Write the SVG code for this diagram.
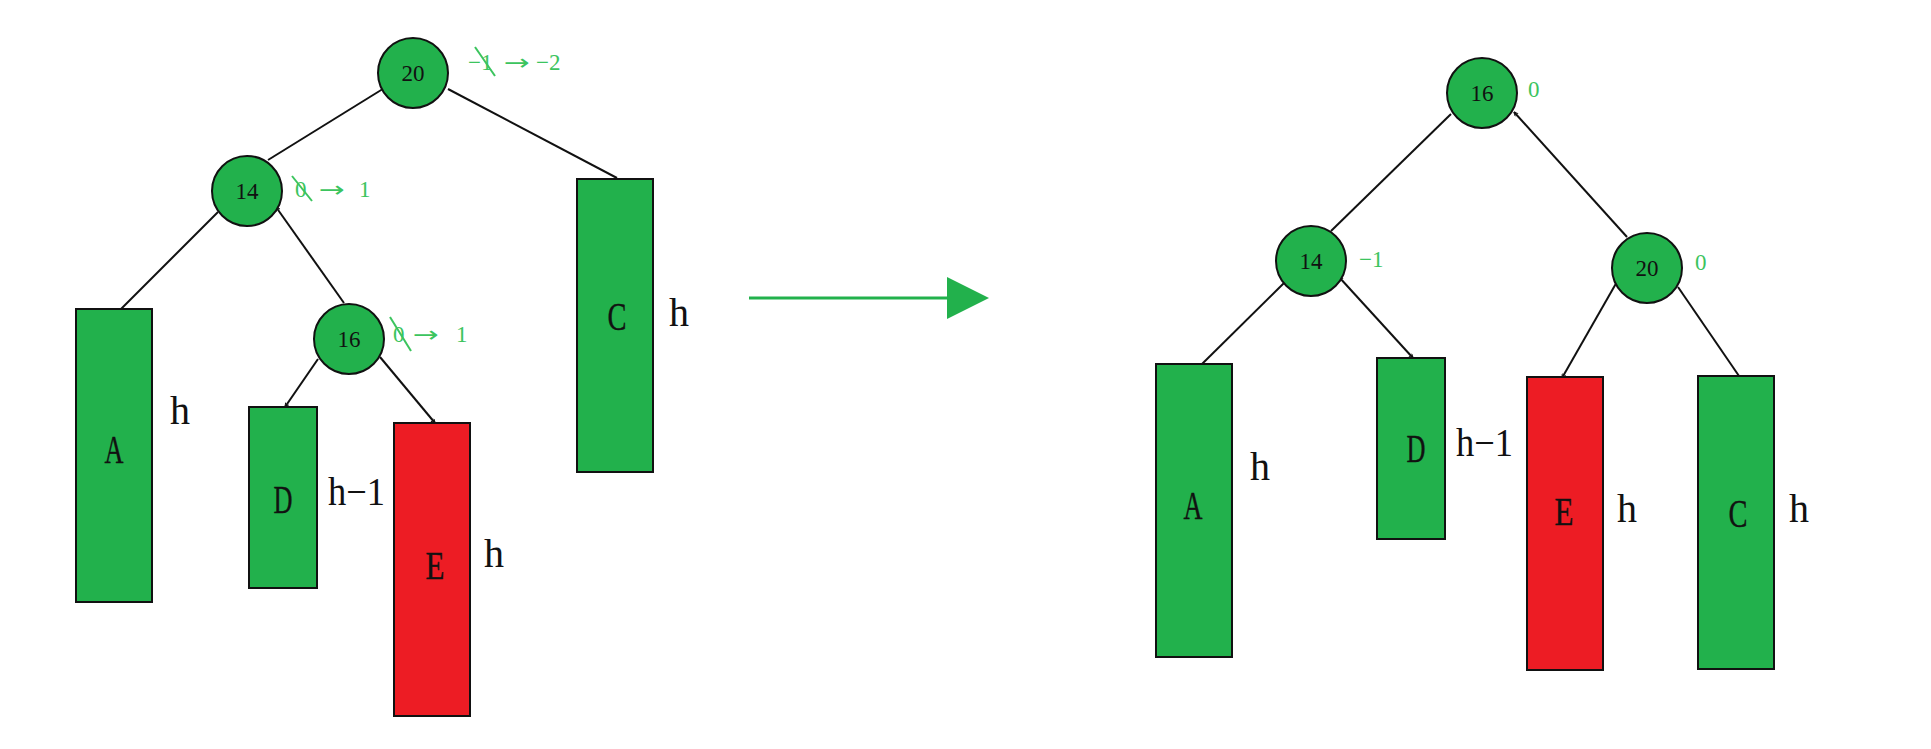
<svg xmlns="http://www.w3.org/2000/svg" width="1931" height="749" viewBox="0 0 1931 749">
<style>
.node circle{fill:#22b14c;stroke:#111;stroke-width:2}
.box{stroke:#111;stroke-width:2}
.g{fill:#22b14c}
.r{fill:#ed1c24}
.num{font-family:"Liberation Serif",serif;font-size:23px;fill:#111;text-anchor:middle}
.let{font-family:"Liberation Serif",serif;font-size:40px;fill:#111;text-anchor:middle;stroke:#111;stroke-width:0.4}
.hl{font-family:"Liberation Serif",serif;font-size:40px;fill:#111}
.bf{font-family:"Liberation Serif",serif;font-size:23px;fill:#3cc45e}
.arr{font-family:"DejaVu Sans",sans-serif;font-size:22px;fill:#3cc45e}
.strike{stroke:#3cc45e;stroke-width:2}
#edges line{stroke:#111;stroke-width:2}
</style>
<defs>
<marker id="tick" viewBox="0 0 10 10" refX="9" refY="5" markerWidth="5" markerHeight="5" orient="auto-start-reverse" markerUnits="userSpaceOnUse">
<path d="M1,1 L9,5 L1,9" fill="none" stroke="#111" stroke-width="2"/>
</marker>
</defs>
<rect width="1931" height="749" fill="#fff"/>

<g id="edges">
<line x1="268" y1="160" x2="386" y2="87" marker-end="url(#tick)"/>
<line x1="448" y1="89" x2="617" y2="178"/>
<line x1="218" y1="212" x2="121" y2="309"/>
<line x1="344" y1="303" x2="276" y2="207" marker-end="url(#tick)"/>
<line x1="318" y1="359" x2="285" y2="407" marker-end="url(#tick)"/>
<line x1="380" y1="357" x2="435" y2="423" marker-end="url(#tick)"/>
<line x1="1331" y1="231" x2="1451" y2="114"/>
<line x1="1627" y1="237" x2="1514" y2="112" marker-end="url(#tick)"/>
<line x1="1284" y1="283" x2="1202" y2="364"/>
<line x1="1339" y1="277" x2="1413" y2="358" marker-start="url(#tick)" marker-end="url(#tick)"/>
<line x1="1618" y1="280" x2="1562" y2="378" marker-start="url(#tick)" marker-end="url(#tick)"/>
<line x1="1678" y1="287" x2="1739" y2="376"/>
</g>

<g id="transform-arrow">
<line x1="749" y1="298" x2="950" y2="298" stroke="#22b14c" stroke-width="3"/>
<polygon points="947,277 989,298 947,319" fill="#22b14c"/>
</g>

<!-- Left tree -->
<g id="L20" class="node"><circle cx="413" cy="73" r="35"/><text class="num" x="413" y="81">20</text></g>
<g id="L20bf"><text class="bf" x="468" y="70">−1</text><text class="arr" x="504" y="70" textLength="26" lengthAdjust="spacingAndGlyphs">→</text><text class="bf" x="536" y="70">−2</text><line class="strike" x1="475" y1="47" x2="495" y2="76"/></g>
<g id="L14" class="node"><circle cx="247" cy="191" r="35"/><text class="num" x="247" y="199">14</text></g>
<g id="L14bf"><text class="bf" x="295" y="197">0</text><text class="arr" x="319" y="197" textLength="26" lengthAdjust="spacingAndGlyphs">→</text><text class="bf" x="359" y="197">1</text><line class="strike" x1="292" y1="176" x2="312" y2="201"/></g>
<g id="L16" class="node"><circle cx="349" cy="339" r="35"/><text class="num" x="349" y="347">16</text></g>
<g id="L16bf"><text class="bf" x="393" y="342">0</text><text class="arr" x="413" y="342" textLength="26" lengthAdjust="spacingAndGlyphs">→</text><text class="bf" x="456" y="342">1</text><line class="strike" x1="390" y1="317" x2="411" y2="351"/></g>

<g id="LA"><rect class="box g" x="76" y="309" width="76" height="293"/><text class="let" x="114" y="463" textLength="19" lengthAdjust="spacingAndGlyphs">A</text><text class="hl" x="170" y="424">h</text></g>
<g id="LD"><rect class="box g" x="249" y="407" width="68" height="181"/><text class="let" x="283" y="513" textLength="19" lengthAdjust="spacingAndGlyphs">D</text><text class="hl" x="328" y="505" textLength="57" lengthAdjust="spacingAndGlyphs">h−1</text></g>
<g id="LE"><rect class="box r" x="394" y="423" width="76" height="293"/><text class="let" x="435" y="579" textLength="19" lengthAdjust="spacingAndGlyphs">E</text><text class="hl" x="484" y="567">h</text></g>
<g id="LC"><rect class="box g" x="577" y="179" width="76" height="293"/><text class="let" x="617" y="330" textLength="19" lengthAdjust="spacingAndGlyphs">C</text><text class="hl" x="669" y="326">h</text></g>

<!-- Right tree -->
<g id="R16" class="node"><circle cx="1482" cy="93" r="35"/><text class="num" x="1482" y="101">16</text></g>
<text class="bf" x="1528" y="97">0</text>
<g id="R14" class="node"><circle cx="1311" cy="261" r="35"/><text class="num" x="1311" y="269">14</text></g>
<text class="bf" x="1359" y="267">−1</text>
<g id="R20" class="node"><circle cx="1647" cy="268" r="35"/><text class="num" x="1647" y="276">20</text></g>
<text class="bf" x="1695" y="270">0</text>

<g id="RA"><rect class="box g" x="1156" y="364" width="76" height="293"/><text class="let" x="1193" y="519" textLength="19" lengthAdjust="spacingAndGlyphs">A</text><text class="hl" x="1250" y="480">h</text></g>
<g id="RD"><rect class="box g" x="1377" y="358" width="68" height="181"/><text class="let" x="1416" y="462" textLength="19" lengthAdjust="spacingAndGlyphs">D</text><text class="hl" x="1456" y="456" textLength="57" lengthAdjust="spacingAndGlyphs">h−1</text></g>
<g id="RE"><rect class="box r" x="1527" y="377" width="76" height="293"/><text class="let" x="1564" y="525" textLength="19" lengthAdjust="spacingAndGlyphs">E</text><text class="hl" x="1617" y="522">h</text></g>
<g id="RC"><rect class="box g" x="1698" y="376" width="76" height="293"/><text class="let" x="1738" y="527" textLength="19" lengthAdjust="spacingAndGlyphs">C</text><text class="hl" x="1789" y="522">h</text></g>
</svg>
